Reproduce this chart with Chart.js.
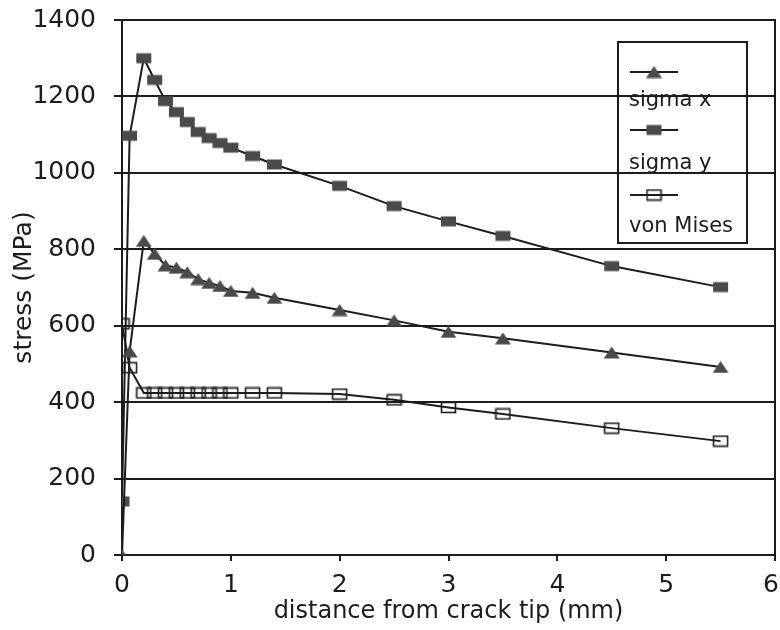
<!DOCTYPE html>
<html>
<head>
<meta charset="utf-8">
<script src="https://cdn.jsdelivr.net/npm/chart.js@4"></script>
<style>
  html, body { margin: 0; padding: 0; background: #fff; }
  #wrap { width: 780px; height: 630px; }
</style>
</head>
<body>
<div id="wrap"><canvas id="stressChart" width="780" height="630"></canvas></div>
<script>
// --- DATA ---
const distance = [0, 0.07, 0.2, 0.3, 0.4, 0.5, 0.6, 0.7, 0.8, 0.9, 1.0, 1.2, 1.4, 2.0, 2.5, 3.0, 3.5, 4.5, 5.5];
const sigmaX   = [0, 533, 822, 788, 758, 752, 740, 722, 712, 704, 691, 686, 673, 641, 614, 584, 567, 530, 492];
const sigmaY   = [140, 1097, 1300, 1243, 1188, 1159, 1133, 1107, 1091, 1078, 1066, 1044, 1022, 966, 913, 873, 835, 756, 701];
const vonMises = [605, 490, 424, 424, 424, 424, 424, 424, 424, 424, 424, 424, 424, 421, 406, 386, 369, 332, 298];
const seriesNames = ['sigma x', 'sigma y', 'von Mises'];
const xTicks = [0, 1, 2, 3, 4, 5, 6];
const yTicks = [0, 200, 400, 600, 800, 1000, 1200, 1400];

const INK = '#1c1c1c';
const MARK = '#4a4a4a';
const FONT = '"DejaVu Sans", sans-serif';

// --- MARKERS ---
function makeMarker(kind) {
    const c = document.createElement('canvas');
    c.width = 17; c.height = 13;
    const g = c.getContext('2d');
    if (kind === 'triangle') {
        g.fillStyle = MARK;
        g.beginPath();
        g.moveTo(8.5, 0.5); g.lineTo(16.5, 12.5); g.lineTo(0.5, 12.5); g.closePath();
        g.fill();
    } else if (kind === 'square') {
        g.fillStyle = MARK;
        g.fillRect(1, 1.5, 15, 10);
    } else {
        g.strokeStyle = INK;
        g.lineWidth = 1.6;
        g.strokeRect(1.5, 1.5, 14, 10);
    }
    return c;
}
const markers = [makeMarker('triangle'), makeMarker('square'), makeMarker('open')];

const toPoints = vals => vals.map((v, i) => ({ x: distance[i], y: v }));

// --- PLUGINS ---
const frameAndLegend = {
    id: 'frameAndLegend',
    afterDraw(chart) {
        const { ctx, chartArea: a, width } = chart;
        const xs = chart.scales.x;
        ctx.save();
        ctx.strokeStyle = INK;
        ctx.lineWidth = 2;
        ctx.beginPath();
        ctx.moveTo(a.left, a.top); ctx.lineTo(a.right, a.top); ctx.lineTo(a.right, a.bottom + 6);
        ctx.stroke();

        // x tick labels, placed by the x scale (last one kept inside the canvas)
        ctx.font = '25px ' + FONT;
        ctx.fillStyle = INK;
        ctx.textAlign = 'center';
        ctx.textBaseline = 'alphabetic';
        xTicks.forEach(v => {
            const txt = String(v);
            const half = ctx.measureText(txt).width / 2;
            const px = Math.min(xs.getPixelForValue(v), width - half - 1);
            ctx.fillText(txt, px, a.bottom + 37);
        });

        // legend box (transparent, grid shows through)
        const lx = 618, ly = 42, lw = 129, lh = 201;
        ctx.strokeRect(lx, ly, lw, lh);
        const rows = [72, 130, 195];
        const textY = [106, 169, 232];
        ctx.font = '21px ' + FONT;
        ctx.textAlign = 'left';
        rows.forEach((ry, i) => {
            ctx.lineWidth = 2;
            ctx.beginPath();
            ctx.moveTo(630, ry); ctx.lineTo(678, ry);
            ctx.stroke();
            const m = markers[i];
            ctx.drawImage(m, 654 - m.width / 2, ry - m.height / 2);
            ctx.fillText(seriesNames[i], 629, textY[i]);
        });
        ctx.restore();
    }
};

// --- CHART ---
const datasets = [sigmaX, sigmaY, vonMises].map((vals, i) => ({
    label: seriesNames[i],
    data: toPoints(vals),
    borderColor: INK,
    borderWidth: 2,
    pointStyle: markers[i],
    pointRadius: 7,
    tension: 0,
    fill: false,
}));

new Chart(document.getElementById('stressChart'), {
    type: 'line',
    data: { datasets },
    plugins: [frameAndLegend],
    options: {
        responsive: false,
        animation: false,
        layout: { autoPadding: false, padding: { top: 20, right: 5, left: 0, bottom: 0 } },
        plugins: { legend: { display: false }, tooltip: { enabled: false } },
        scales: {
            x: {
                type: 'linear',
                min: 0, max: 6,
                afterBuildTicks: s => { s.ticks = xTicks.map(v => ({ value: v })); },
                afterFit: s => { s.height = 75; },
                grid: { drawOnChartArea: false, tickLength: 6, color: INK, lineWidth: 2 },
                border: { color: INK, width: 2 },
                ticks: { display: false },
                title: { display: true, text: 'distance from crack tip (mm)', color: INK,
                         font: { family: FONT, size: 24 }, padding: { top: 0, bottom: 4 } },
            },
            y: {
                min: 0, max: 1400,
                afterBuildTicks: s => { s.ticks = yTicks.map(v => ({ value: v })); },
                afterFit: s => { s.width = 122; s.paddingTop = 0; s.paddingBottom = 0; },
                grid: { tickLength: 8, color: INK, lineWidth: 2 },
                border: { color: INK, width: 2 },
                ticks: { color: INK, padding: 18, font: { family: FONT, size: 25 }, callback: v => String(v) },
                title: { display: true, text: 'stress (MPa)', color: INK,
                         font: { family: FONT, size: 25 }, padding: { top: 9, bottom: 0 } },
            },
        },
    },
});
</script>
</body>
</html>
